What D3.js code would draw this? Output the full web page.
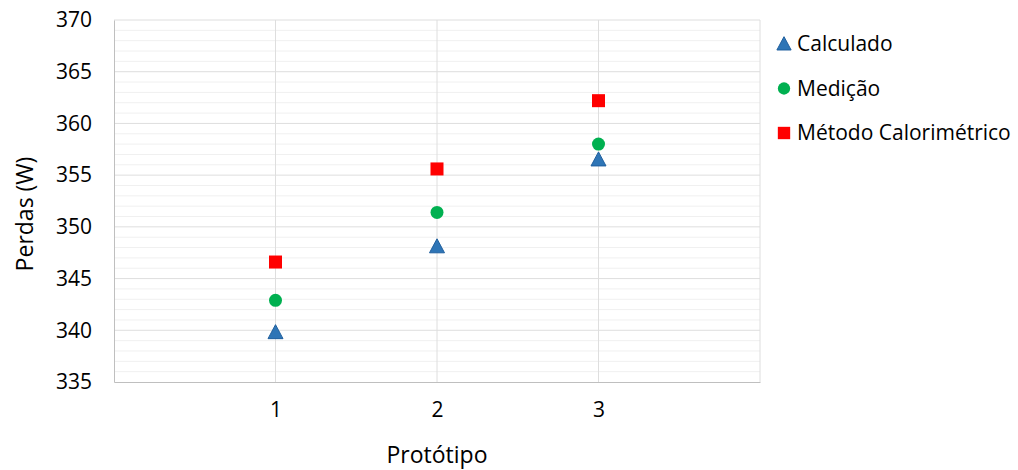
<!DOCTYPE html>
<html>
<head>
<meta charset="utf-8">
<script src="https://cdn.jsdelivr.net/npm/d3@7"></script>
<style>
  html, body { margin: 0; padding: 0; background: #fff; }
  svg { display: block; font-family: "Open Sans", sans-serif; }
</style>
</head>
<body>
<svg id="chart" width="1018" height="470"></svg>
<script>
// Prototype categories and measured losses (W)
const prototypes = [1, 2, 3];
const calculado = [339.8, 348.1, 356.5];
const medicao = [342.9, 351.4, 358.0];
const calorimetrico = [346.6, 355.6, 362.2];
const yTicks = [335, 340, 345, 350, 355, 360, 365, 370];

const seriesList = [
  { name: "Calculado", values: calculado, shape: "triangle", fill: "#2e75b6", stroke: "#1f5f9e" },
  { name: "Medição", values: medicao, shape: "circle", fill: "#00b050", stroke: "none" },
  { name: "Método Calorimétrico", values: calorimetrico, shape: "square", fill: "#ff0000", stroke: "none" }
];

const svg = d3.select("#chart");
const plot = { left: 114, right: 760, top: 20, bottom: 382 };

const x = d3.scaleLinear().domain([0, 4]).range([plot.left, plot.right]);
const y = d3.scaleLinear().domain([335, 370]).range([plot.bottom, plot.top]);

// Minor gridlines every 1 W
const minor = d3.range(336, 370, 1).filter(v => v % 5 !== 0);
svg.append("g").selectAll("line").data(minor).join("line")
  .attr("x1", plot.left).attr("x2", plot.right)
  .attr("y1", d => y(d)).attr("y2", d => y(d))
  .attr("stroke", "#f0f0f0").attr("stroke-width", 1);

// Major gridlines every 5 W
svg.append("g").selectAll("line").data(yTicks.slice(1)).join("line")
  .attr("x1", plot.left).attr("x2", plot.right)
  .attr("y1", d => y(d)).attr("y2", d => y(d))
  .attr("stroke", "#dedede").attr("stroke-width", 1);

// Vertical gridlines at each prototype and at the right edge
svg.append("g").selectAll("line").data([...prototypes, 4]).join("line")
  .attr("x1", d => x(d)).attr("x2", d => x(d))
  .attr("y1", plot.top).attr("y2", plot.bottom)
  .attr("stroke", "#dedede").attr("stroke-width", 1);

// Y axis
const yAxis = svg.append("g")
  .attr("transform", `translate(${plot.left},0)`)
  .call(d3.axisLeft(y).tickValues(yTicks).tickSize(0).tickPadding(22));
yAxis.select(".domain").attr("stroke", "#bfbfbf");
yAxis.selectAll("text").attr("font-size", 21).attr("fill", "#000")
  .attr("font-family", "'Open Sans', sans-serif");

// X axis
const xAxis = svg.append("g")
  .attr("transform", `translate(0,${plot.bottom})`)
  .call(d3.axisBottom(x).tickValues(prototypes).tickFormat(d3.format("d")).tickSize(0).tickPadding(20));
xAxis.select(".domain").attr("stroke", "#bfbfbf");
xAxis.selectAll("text").attr("font-size", 21).attr("fill", "#000")
  .attr("font-family", "'Open Sans', sans-serif");

// Axis titles
svg.append("text")
  .attr("x", (plot.left + plot.right) / 2).attr("y", 463)
  .attr("text-anchor", "middle").attr("font-size", 23).attr("fill", "#000")
  .text("Protótipo");
svg.append("text")
  .attr("transform", `translate(33,${(plot.top + plot.bottom) / 2 + 13}) rotate(-90)`)
  .attr("text-anchor", "middle").attr("font-size", 23).attr("fill", "#000")
  .text("Perdas (W)");

// Marker drawing helper
function drawMarker(g, shape, fill, stroke, cx, cy, scale) {
  const s = scale || 1;
  if (shape === "triangle") {
    const h = 14 * s, w = 15 * s;
    g.append("path")
      .attr("d", `M${cx},${cy - h * 0.55} L${cx + w / 2},${cy + h * 0.45} L${cx - w / 2},${cy + h * 0.45} Z`)
      .attr("fill", fill).attr("stroke", stroke).attr("stroke-width", 1);
  } else if (shape === "circle") {
    g.append("circle").attr("cx", cx).attr("cy", cy).attr("r", 6.5 * s).attr("fill", fill);
  } else {
    const a = 13 * s;
    g.append("rect").attr("x", cx - a / 2).attr("y", cy - a / 2)
      .attr("width", a).attr("height", a).attr("fill", fill);
  }
}

// Data markers
const marks = svg.append("g");
seriesList.forEach(s => {
  s.values.forEach((v, i) => {
    drawMarker(marks, s.shape, s.fill, s.stroke, x(prototypes[i]), y(v));
  });
});

// Legend
const legend = svg.append("g");
seriesList.forEach((s, i) => {
  const ly = 44 + i * 44.5;
  drawMarker(legend, s.shape, s.fill, s.stroke, 784, ly, 0.95);
  legend.append("text")
    .attr("x", 797).attr("y", ly).attr("dy", "0.35em")
    .attr("font-size", 21).attr("fill", "#000")
    .text(s.name);
});
</script>
</body>
</html>
